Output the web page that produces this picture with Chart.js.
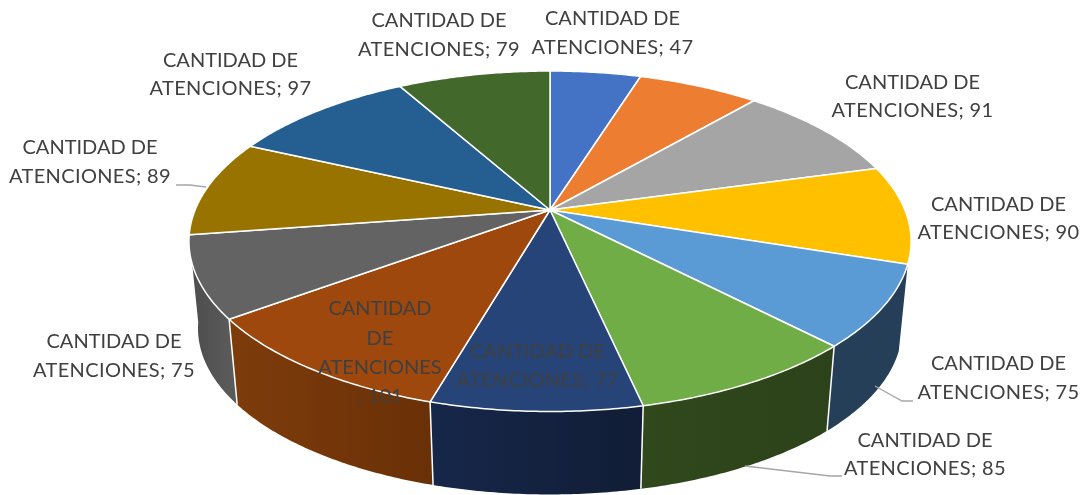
<!DOCTYPE html>
<html>
<head>
<meta charset="utf-8">
<style>html,body{margin:0;padding:0;background:#fff}canvas{display:block}</style>
<script src="https://cdn.jsdelivr.net/npm/chart.js@4"></script>
</head>
<body>
<canvas id="c" width="1086" height="495"></canvas>
<script>
const seriesName = 'CANTIDAD DE ATENCIONES';
const categories = ['1','2','3','4','5','6','7','8','9','10','11','12'];
const values = [47, 63, 91, 90, 75, 85, 77, 101, 75, 89, 97, 79];
const topColors = ['#4472C4','#ED7D31','#A5A5A5','#FFC000','#5B9BD5','#70AD47','#264478','#9E480E','#636363','#997300','#255E91','#43682B'];
const wallLeft  = ['#2A4578','#8F4B1D','#646464','#9A7400','#243F57','#30481C','#17274A','#7E3C0B','#4C4C4C','#5C4600','#163957','#283F1A'];
const wallRight = ['#2A4578','#8F4B1D','#646464','#9A7400','#243F57','#2C421A','#111D36','#6A3007','#5A5A5A','#5C4600','#163957','#283F1A'];

// Label layout: centre x, first line y, line step and the number of text lines per slice
const labelLayout = [
  {x:612.5, y:19, dy:29, lines:2},
  null,
  {x:912.5, y:83, dy:28, lines:2},
  {x:998.5, y:205, dy:28, lines:2},
  {x:998.5, y:364, dy:29, lines:2},
  {x:925, y:441, dy:28, lines:2},
  {x:537.5, y:352, dy:29, lines:2},
  {x:380, y:309, dy:29.3, lines:4},
  {x:114, y:342, dy:29, lines:2},
  {x:90, y:148, dy:29, lines:2},
  {x:230.5, y:61, dy:28, lines:2},
  {x:439, y:21, dy:29, lines:2}
];
const leaders = [
  [[206,187],[190,185],[176,185]],
  [[875,386],[902,401],[913,401]],
  [[745,466],[830,476],[842,476]]
];
// Perspective used to lay the pie down
const P = {cx:550, cy:210, A:354.9, B:164.5, k:0.1836, s:0.975, vy:3730};

function proj(a, lower){
  const u = Math.cos(a), v = Math.sin(a), w = 1 - P.k*v;
  let x = P.cx + P.A*u/w, y = P.cy + P.B*v/w;
  if (lower){ x = P.cx + (x-P.cx)*P.s; y = P.vy + (y-P.vy)*P.s; }
  return [x,y];
}
function rim(ctx,a0,a1,lower,move){
  const n = Math.max(4,Math.ceil(Math.abs(a1-a0)/0.01));
  for(let i=0;i<=n;i++){
    const p = proj(a0+(a1-a0)*i/n,lower);
    if(i===0&&move) ctx.moveTo(p[0],p[1]); else ctx.lineTo(p[0],p[1]);
  }
}
const pie3d = {
  id:'pie3d',
  beforeDatasetDraw(chart,args){
    const ctx = chart.ctx, arcs = args.meta.data;
    ctx.save();
    ctx.lineJoin='round';
    arcs.forEach((e,i)=>{
      if(Math.sin((e.startAngle+e.endAngle)/2)<0.2) return;
      const a = proj(e.startAngle), b = proj(e.endAngle);
      const g = ctx.createLinearGradient(Math.min(a[0],b[0]),0,Math.max(a[0],b[0]),0);
      g.addColorStop(0,wallLeft[i]); g.addColorStop(1,wallRight[i]);
      ctx.beginPath();
      rim(ctx,e.startAngle,e.endAngle,false,true);
      rim(ctx,e.endAngle,e.startAngle,true,false);
      ctx.closePath();
      ctx.fillStyle=g; ctx.fill();
    });
    ctx.strokeStyle='#ffffff'; ctx.lineWidth=1.5;
    for(const e of arcs){
      if(Math.sin(e.startAngle)<0.4) continue;
      const t=proj(e.startAngle), l=proj(e.startAngle,true);
      ctx.beginPath(); ctx.moveTo(t[0],t[1]); ctx.lineTo(l[0],l[1]); ctx.stroke();
    }
    arcs.forEach((e,i)=>{
      ctx.beginPath();
      ctx.moveTo(P.cx,P.cy);
      rim(ctx,e.startAngle,e.endAngle,false,false);
      ctx.closePath();
      ctx.fillStyle=topColors[i]; ctx.fill();
      ctx.strokeStyle='#ffffff'; ctx.lineWidth=1.5; ctx.stroke();
    });
    ctx.restore();
    return false;
  },
  afterDatasetsDraw(chart){
    const ctx = chart.ctx;
    ctx.save();
    ctx.strokeStyle='#A6A6A6'; ctx.lineWidth=1.4;
    for(const l of leaders){
      ctx.beginPath();
      l.forEach((p,i)=>i?ctx.lineTo(p[0],p[1]):ctx.moveTo(p[0],p[1]));
      ctx.stroke();
    }
    ctx.font='20px Lato';
    ctx.fillStyle='#404040';
    ctx.textAlign='center'; ctx.textBaseline='middle';
    labelLayout.forEach((L,i)=>{
      if(!L) return;
      const parts = seriesName.split(' ');
      let lines;
      if(L.lines===4) lines=[parts[0],parts[1],parts[2],'; '+values[i]];
      else lines=[parts[0]+' '+parts[1], parts[2]+'; '+values[i]];
      lines.forEach((t,j)=>{
        ctx.letterSpacing = t.indexOf(';')>0 ? '0.35px' : '0px';
        ctx.fillText(t,L.x,L.y+j*L.dy);
      });
    });
    ctx.restore();
  }
};
new Chart(document.getElementById('c'),{
  type:'pie',
  data:{labels:categories,datasets:[{label:seriesName,data:values,backgroundColor:topColors}]},
  options:{
    responsive:false,animation:false,
    plugins:{legend:{display:false},tooltip:{enabled:false}}
  },
  plugins:[pie3d]
});
</script>
</body>
</html>
